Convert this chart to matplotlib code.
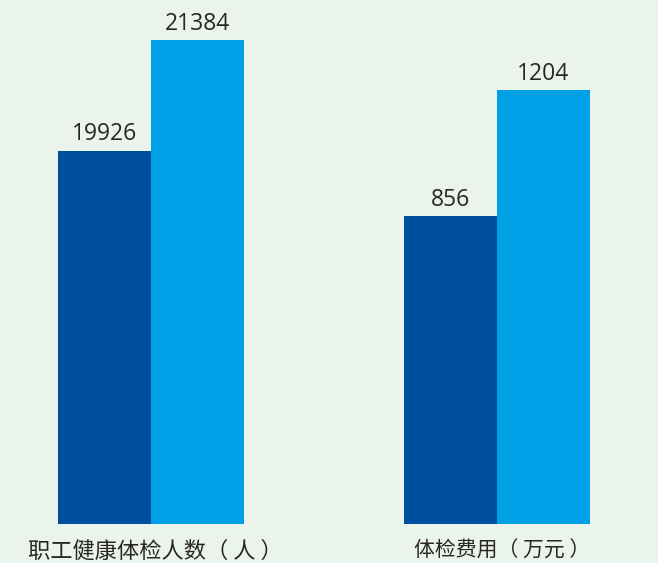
import matplotlib.pyplot as plt

plt.rcParams['font.family'] = ['Noto Sans CJK SC', 'DejaVu Sans']

categories = ['职工健康体检人数（ 人 ）', '体检费用（ 万元 ）']
prev_values = [19926, 856]
curr_values = [21384, 1204]

dark = '#004f9f'
light = '#00a0e6'
bg = '#eaf4eb'
text_color = '#2b2626'

fig = plt.figure(figsize=(6.58, 5.63), dpi=100, facecolor=bg)
ax = fig.add_axes([0, 0.0684, 1, 0.9316])
ax2 = ax.twinx()

width = 0.2688
# each group gets its own value scale
for a, i, lims in [(ax, 0, (15000, 21912)), (ax2, 1, (0, 1455))]:
    a.set_ylim(*lims)
    for x, v, c in [(i - width / 2, prev_values[i], dark), (i + width / 2, curr_values[i], light)]:
        a.bar(x, v, width=width, color=c, linewidth=0)
        a.annotate(str(v), (x, v), xytext=(0, 7.5), textcoords='offset points',
                   ha='center', va='baseline', fontsize=16.5, color=text_color,
                   family='Open Sans')
    for s in a.spines.values():
        s.set_visible(False)
    a.set_yticks([])

ax.set_facecolor(bg)
ax.set_xlim(-0.4364, 1.4653)
ax.set_xticks([])

# category names under the groups
for i, (name, size) in enumerate(zip(categories, [16, 15])):
    ax.annotate(name, (i, 0), xycoords=('data', 'axes fraction'),
                xytext=(3.5, -19), textcoords='offset points',
                ha='center', va='center', fontsize=size, color=text_color,
                annotation_clip=False)

fig.savefig('out.png', dpi=100, facecolor=bg)
